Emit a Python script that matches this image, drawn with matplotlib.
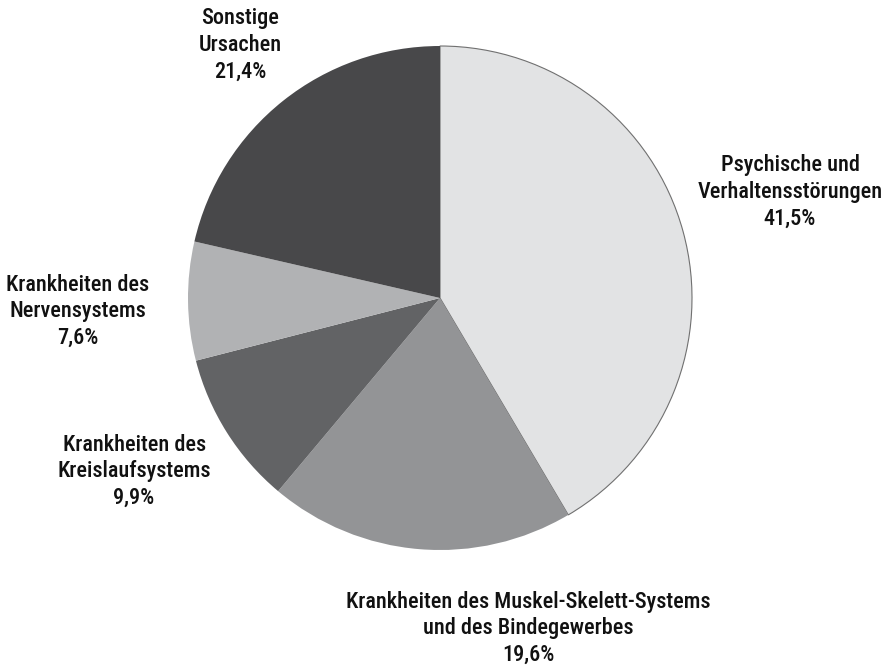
import matplotlib.pyplot as plt

labels = ['Psychische und\nVerhaltensstörungen',
          'Krankheiten des Muskel-Skelett-Systems\nund des Bindegewerbes',
          'Krankheiten des\nKreislaufsystems',
          'Krankheiten des\nNervensystems',
          'Sonstige\nUrsachen']
values = [41.5, 19.6, 9.9, 7.6, 21.4]
colors = ['#e2e3e4', '#939496', '#626365', '#b1b2b4', '#48484a']
# label centers in pie units
label_pos = [(1.389, 0.421), (0.349, -1.31), (-1.214, -0.687), (-1.437, -0.052), (-0.794, 1.004)]

fig = plt.figure(figsize=(8.91, 6.67), dpi=100)
cx, cy, r = 440 / 891, 1 - 298 / 667, 252
ax = fig.add_axes([cx - r / 891, cy - r / 667, 2 * r / 891, 2 * r / 667])
wedges, _ = ax.pie(values, colors=colors, startangle=90, counterclock=False,
                   wedgeprops=dict(linewidth=0))
wedges[0].set_edgecolor('#707070')
wedges[0].set_linewidth(0.8)
ax.set_xlim(-1, 1)
ax.set_ylim(-1, 1)
ax.set_aspect('equal')
ax.axis('off')

for lab, v, (x, y) in zip(labels, values, label_pos):
    txt = lab + '\n' + f'{v:.1f}%'.replace('.', ',')
    ax.text(x, y, txt, ha='center', va='center', fontsize=16,
            family='Roboto Condensed', fontweight=500,
            linespacing=1.27, color='#111111', clip_on=False)

fig.savefig('out.png', dpi=100)
